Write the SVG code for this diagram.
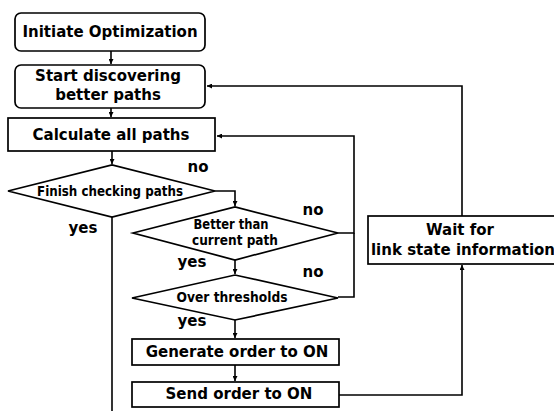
<svg xmlns="http://www.w3.org/2000/svg" width="554" height="411" viewBox="0 0 554 411">
<style>
.box{fill:#fff;stroke:#000;stroke-width:1.7}
.t{font-family:"DejaVu Sans",sans-serif;font-weight:bold;font-size:15px;fill:#000;text-anchor:middle}
.s{font-family:"DejaVu Sans",sans-serif;font-weight:bold;font-size:13.5px;fill:#000;text-anchor:middle}
.c{fill:none;stroke:#000;stroke-width:1.6}
</style>
<defs>
<marker id="a" viewBox="0 0 10 10" refX="10" refY="5" markerWidth="5" markerHeight="5" orient="auto" markerUnits="userSpaceOnUse">
<path d="M0,0L10,5L0,10z" fill="#000"/>
</marker>
</defs>
<rect width="554" height="411" fill="#fff"/>
<g id="connectors">
<path class="c" d="M111,51V64" marker-end="url(#a)"/>
<path class="c" d="M111,108V117" marker-end="url(#a)"/>
<path class="c" d="M112,151V164" marker-end="url(#a)"/>
<path class="c" d="M215,191H235V206" marker-end="url(#a)"/>
<path class="c" d="M235,260V274" marker-end="url(#a)"/>
<path class="c" d="M235,320V338" marker-end="url(#a)"/>
<path class="c" d="M235,365V381" marker-end="url(#a)"/>
<path class="c" d="M112,217V411"/>
<path class="c" d="M338,233H354V136H217" marker-end="url(#a)"/>
<path class="c" d="M338,297H354V233"/>
<path class="c" d="M339,395H462V265" marker-end="url(#a)"/>
<path class="c" d="M462,216V86H207" marker-end="url(#a)"/>
</g>
<g id="initiate">
<rect class="box" x="15" y="13" width="190" height="38" rx="6"/>
<text class="t" x="110" y="37">Initiate Optimization</text>
</g>
<g id="start">
<rect class="box" x="15" y="65" width="190" height="43" rx="6"/>
<text class="t" x="108" y="81">Start discovering</text>
<text class="t" x="108" y="100">better paths</text>
</g>
<g id="calculate">
<rect class="box" x="8" y="118" width="207" height="33"/>
<text class="t" x="111" y="140">Calculate all paths</text>
</g>
<g id="finish">
<polygon class="box" points="8,191 112,165 215,191 112,217"/>
<text class="s" x="110" y="196" textLength="146" lengthAdjust="spacingAndGlyphs">Finish checking paths</text>
</g>
<g id="better">
<polygon class="box" points="133,233 235,207 338,233 235,260"/>
<text class="s" x="231" y="229" textLength="75" lengthAdjust="spacingAndGlyphs">Better than</text>
<text class="s" x="235" y="245" textLength="86" lengthAdjust="spacingAndGlyphs">current path</text>
</g>
<g id="over">
<polygon class="box" points="132,298 235,275 338,298 235,320"/>
<text class="s" x="232" y="302" textLength="111" lengthAdjust="spacingAndGlyphs">Over thresholds</text>
</g>
<g id="generate">
<rect class="box" x="132" y="339" width="207" height="26"/>
<text class="t" x="237" y="357">Generate order to ON</text>
</g>
<g id="send">
<rect class="box" x="132" y="382" width="207" height="25"/>
<text class="t" x="239" y="399">Send order to ON</text>
</g>
<g id="wait">
<rect class="box" x="368" y="216" width="196" height="48"/>
<text class="t" x="460" y="235">Wait for</text>
<text class="t" x="463" y="255">link state information</text>
</g>
<g id="labels">
<text class="t" x="198" y="172">no</text>
<text class="t" x="83" y="233">yes</text>
<text class="t" x="313" y="215">no</text>
<text class="t" x="192" y="267">yes</text>
<text class="t" x="313" y="277">no</text>
<text class="t" x="192" y="326">yes</text>
</g>
</svg>
